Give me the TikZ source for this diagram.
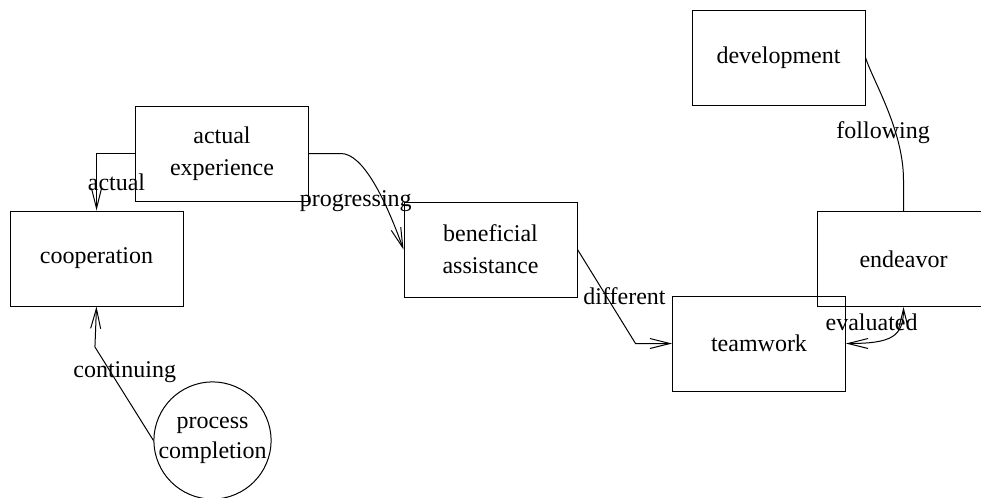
\documentclass[tikz,border=0pt]{standalone}
\usepackage{fontspec}
\setmainfont{Liberation Serif}
\usetikzlibrary{arrows.meta}

\begin{document}
\begin{tikzpicture}[
    x=0.5pt, y=-0.5pt, line width=0.5pt,
    box/.style={draw, minimum width=86.5pt, minimum height=47.5pt, align=center, inner sep=0pt, font=\fontsize{12}{16}\selectfont},
    circ/.style={draw, circle, minimum size=57pt, align=center, inner sep=0pt, font=\fontsize{12}{15}\selectfont},
    lbl/.style={font=\fontsize{12}{14}\selectfont, inner sep=0pt},
    arr/.style={-{Straight Barb[length=10pt,width=5pt]}},
    arrboth/.style={{Straight Barb[length=10pt,width=5pt]}-{Straight Barb[length=10pt,width=5pt]}}
]
\useasboundingbox (0,0) rectangle (981,498);
\node[box] (dev) at (778.5,57.5) {development};
\node[box] (exp) at (222,153.5) {actual\\experience};
\node[box] (coop) at (96.5,258.5) {cooperation};
\node[box] (ben) at (490.5,249.5) {beneficial\\assistance};
\node[box] (endv) at (903.5,259) {endeavor};
\node[box] (team) at (759,343.5) {teamwork};
\node[circ] (proc) at (212.5,440.5) {process\\completion};

\draw[arr] (exp.west) -| node[lbl, pos=0.75, xshift=10pt] {actual} (coop.north);
\draw[arr] (exp.east) -- ++(32,0) .. controls +(22,0) and +(-18,-50) .. node[lbl, pos=0.5, xshift=-9pt, yshift=-9pt] {progressing} (ben.west);
\draw[arr] (ben.east) -- node[lbl, xshift=9pt] {different} ++(58,94) -- (team.west);
\draw[arrboth] (team.east) .. controls +(45,0) and +(0,30) .. node[lbl, pos=0.5, xshift=-10pt, yshift=7pt] {evaluated} (endv.south);
\draw (endv.north) -- ++(0,-31) .. controls +(0,-50) and +(7,22.5) .. node[lbl, pos=0.5, xshift=-2pt, yshift=-12pt] {following} (dev.east);
\draw[arr] (proc.west) -- node[lbl, pos=0.73, xshift=7pt] {continuing} ++(-58.5,-93.5) -- (coop.south);
\end{tikzpicture}
\end{document}
